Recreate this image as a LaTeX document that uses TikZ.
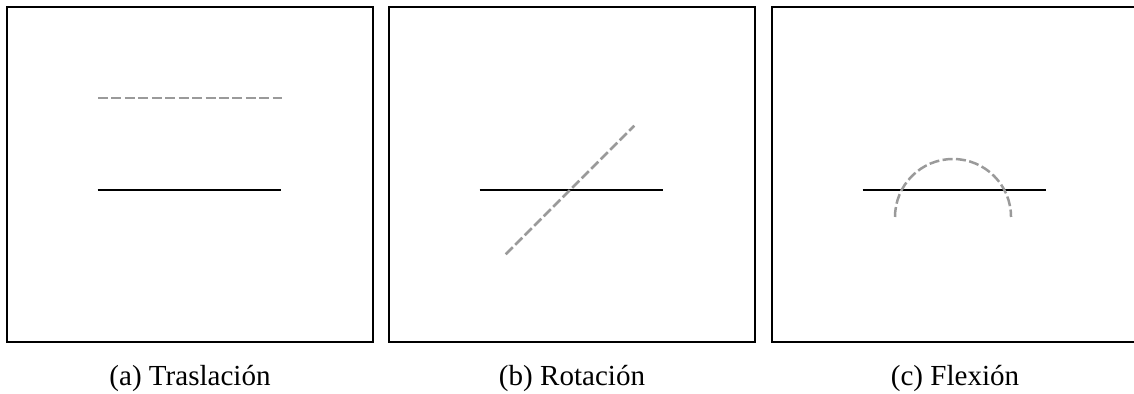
\documentclass[tikz,border=0pt]{standalone}
\usepackage{fontspec}
\setmainfont{Liberation Serif}
\usepackage{tikz}
\definecolor{deformgray}{HTML}{9A9A9A}
\tikzset{
  panel/.style={draw=black,line width=0.8pt},
  beam/.style={draw=black,line width=0.85pt},
  moved/.style={draw=deformgray,line width=0.8pt,dash pattern=on 3.2pt off 1.1pt},
  caption/.style={anchor=base,font=\fontsize{9.3}{11}\selectfont},
}
\begin{document}
\begin{tikzpicture}[x=0.32pt,y=0.32pt]
  \clip (0,0) rectangle (1134,394);
  % three panels
  \foreach \x/\n in {0/a,382/b,765/c} {
     \draw[panel] (\x+7,52) rectangle (\x+373,387);
     \coordinate (\n-l) at (\x+97.5,204);
     \coordinate (\n-r) at (\x+280.5,204);
  }
  \draw[beam] (a-l) -- (a-r);
  \draw[beam] (b-l) -- (b-r);
  \draw[beam] (c-l) -- (c-r);
  % deformed shapes
  \draw[moved] (98,296) -- (282,296);
  \draw[moved] (505.7,139.7) -- (634.3,268.3);
  \draw[moved] (895,177) arc (180:0:58);
  % captions
  \node[caption] (capa) at (190,8) {(a) Traslación};
  \node[caption] (capb) at (572,8) {(b) Rotación};
  \node[caption] (capc) at (955,8) {(c) Flexión};
\end{tikzpicture}
\end{document}
